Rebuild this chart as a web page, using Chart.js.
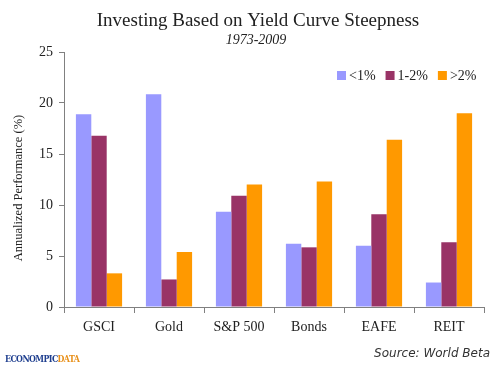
<!DOCTYPE html>
<html>
<head>
<meta charset="utf-8">
<script src="https://cdn.jsdelivr.net/npm/chart.js@4/dist/chart.umd.min.js"></script>
<style>
  html, body { margin: 0; padding: 0; background: #fff; }
  #wrap { position: relative; width: 500px; height: 375px; }
  #logo { position: absolute; left: 5px; top: 354px; font: bold 9px "DejaVu Serif", serif; letter-spacing: -0.7px; color: #1f3f8f; transform: scaleX(0.88); transform-origin: left; }
  #logo span { color: #e8901a; }
  #source { position: absolute; right: 10px; top: 346px; font: italic 12px "DejaVu Sans", sans-serif; color: #333; }
</style>
</head>
<body>
<div id="wrap">
  <canvas id="chart" width="500" height="375"></canvas>
  <div id="logo">ECONOMPIC<span>DATA</span></div>
  <div id="source">Source: World Beta</div>
</div>
<script>
const categories = ["GSCI", "Gold", "S&P 500", "Bonds", "EAFE", "REIT"];
const seriesNames = ["<1%", "1-2%", ">2%"];
const under1 = [18.9, 20.85, 9.35, 6.2, 6.0, 2.4];
const oneToTwo = [16.8, 2.7, 10.9, 5.85, 9.1, 6.35];
const over2 = [3.3, 5.4, 12.0, 12.3, 16.4, 19.0];
const yTicks = [0, 5, 10, 15, 20, 25];

const colors = ["#9999ff", "#993366", "#ff9900"];
const serif = "'Liberation Serif', serif";

// title, subtitle, legend and y title drawn by hand so they sit where the original has them
const decorations = {
  id: "decorations",
  afterDraw(chart) {
    const c = chart.ctx;
    c.save();
    c.fillStyle = "#222";
    c.textAlign = "center";
    c.textBaseline = "middle";
    c.font = "19px " + serif;
    c.fillText("Investing Based on Yield Curve Steepness", 258, 21);
    c.font = "italic 14px " + serif;
    c.fillText("1973-2009", 256, 40);

    c.save();
    c.translate(19, 188);
    c.rotate(-Math.PI / 2);
    c.font = "12.5px " + serif;
    c.fillText("Annualized Performance (%)", 0, 0);
    c.restore();

    c.textAlign = "left";
    c.font = "14px " + serif;
    let x = 337;
    chart.data.datasets.forEach(ds => {
      c.fillStyle = ds.backgroundColor;
      c.fillRect(x, 71, 9, 9);
      c.fillStyle = "#222";
      c.fillText(ds.label, x + 12, 76);
      x += 22 + c.measureText(ds.label).width;
    });
    c.restore();
  }
};

const ctx = document.getElementById("chart").getContext("2d");
new Chart(ctx, {
  type: "bar",
  data: {
    labels: categories,
    datasets: [under1, oneToTwo, over2].map((d, i) => ({
      label: seriesNames[i],
      data: d,
      backgroundColor: colors[i],
      borderWidth: 0,
      categoryPercentage: 0.66,
      barPercentage: 1.0
    }))
  },
  options: {
    responsive: false,
    animation: false,
    layout: { padding: { left: 0, right: 16, top: 52, bottom: 38 } },
    plugins: {
      legend: { display: false },
      tooltip: { enabled: false }
    },
    scales: {
      x: {
        grid: { display: true, drawOnChartArea: false, offset: true, tickLength: 6, color: "#808080" },
        border: { color: "#808080" },
        ticks: { color: "#222", font: { family: serif, size: 14 }, padding: 6 },
        afterFit: s => { s.height = 30; }
      },
      y: {
        min: 0,
        max: 25,
        afterBuildTicks: s => { s.ticks = yTicks.map(v => ({ value: v })); },
        grid: { display: true, drawOnChartArea: false, tickLength: 5, color: "#808080" },
        border: { color: "#808080" },
        ticks: { color: "#222", font: { family: serif, size: 14 }, padding: 6 },
        afterFit: s => { s.width = 64; }
      }
    }
  },
  plugins: [decorations]
});
</script>
</body>
</html>
